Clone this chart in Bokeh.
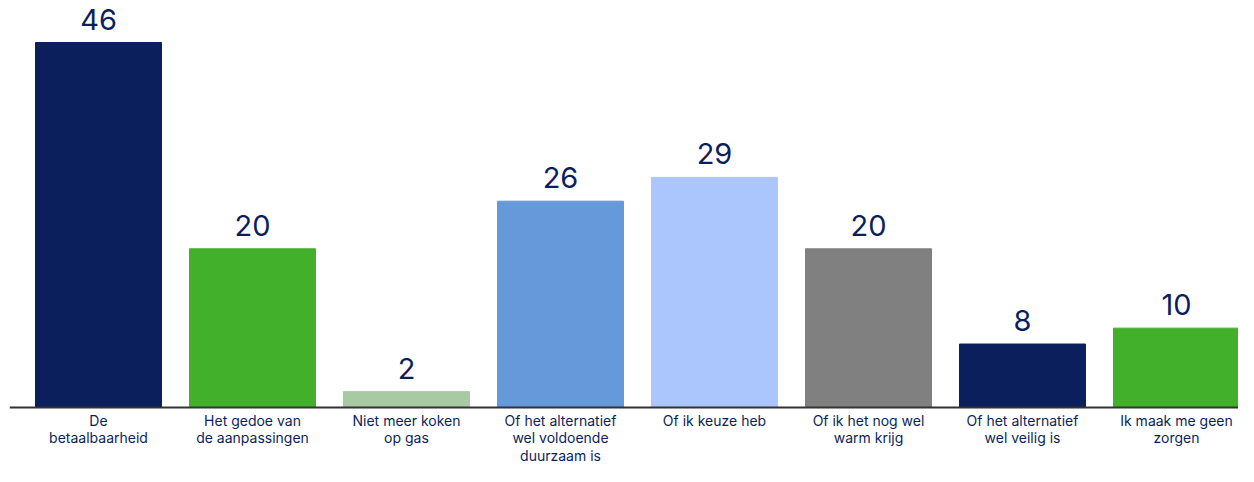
from bokeh.plotting import figure
from bokeh.models import Range1d, ColumnDataSource, Span
from bokeh.core.properties import value
from bokeh.embed import file_html
from bokeh.resources import INLINE

categories = [
    "De\nbetaalbaarheid",
    "Het gedoe van\nde aanpassingen",
    "Niet meer koken\nop gas",
    "Of het alternatief\nwel voldoende\nduurzaam is",
    "Of ik keuze heb",
    "Of ik het nog wel\nwarm krijg",
    "Of het alternatief\nwel veilig is",
    "Ik maak me geen\nzorgen",
]
values = [46, 20, 2, 26, 29, 20, 8, 10]
colors = ["#0b1f5c", "#42b02a", "#a8c9a4", "#6699d9", "#aac6fc", "#808080", "#0b1f5c", "#42b02a"]

xs = list(range(len(values)))
src = ColumnDataSource(dict(x=xs, top=values, color=colors,
                            label=[str(v) for v in values],
                            cat=categories, zero=[0] * len(values)))

FONT = "Inter"
NAVY = "#0b1f5c"

W, H = 1238, 466
BASE = 407          # pixel row of the zero line
PPU = 365 / 46      # pixels per unit
LEFT = 9

x0 = (LEFT - 98) / 154
x1 = (W - 98) / 154
y_top = BASE / PPU
y_bot = -(H - BASE) / PPU

p = figure(width=W, height=H, output_backend="svg", toolbar_location=None,
           x_range=Range1d(x0, x1), y_range=Range1d(y_bot, y_top),
           min_border_left=LEFT, min_border_right=0, min_border_top=0, min_border_bottom=0)

p.vbar(x="x", top="top", bottom=0, width=126 / 154, color="color", source=src)
p.text(x="x", y="top", text="label", source=src, text_align="center", text_baseline="bottom",
       y_offset=-13, text_font=value(FONT), text_font_size="29px", text_color=NAVY)
p.text(x="x", y="zero", text="cat", source=src, text_align="center", text_baseline="top",
       y_offset=4, text_font=value(FONT), text_font_size="14px", text_color=NAVY,
       text_line_height=1.05)

p.add_layout(Span(location=0, dimension="width", line_color="#333333", line_width=2))

p.axis.visible = False
p.xgrid.visible = False
p.ygrid.visible = False
p.outline_line_color = None

open("out.html", "w").write(file_html(p, INLINE))
